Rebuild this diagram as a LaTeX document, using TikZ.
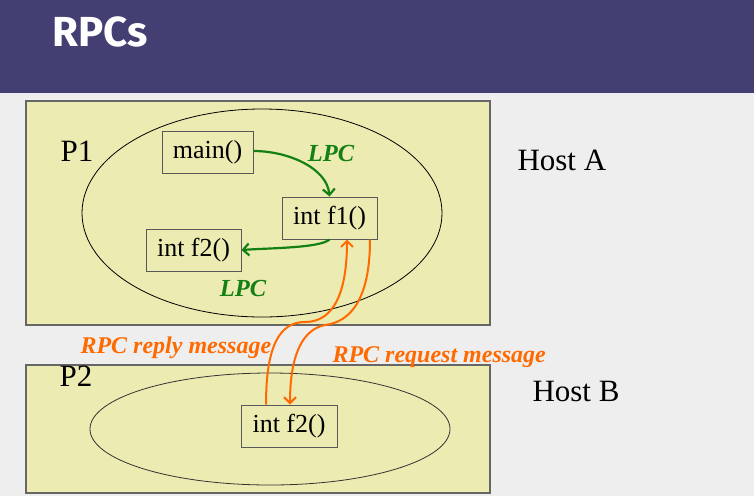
\documentclass[tikz,border=0pt]{standalone}
\usepackage{fontspec}
\setmainfont{Liberation Serif}
\newfontfamily\titlefont{Fira Sans}
\usetikzlibrary{arrows.meta}
\definecolor{headbg}{RGB}{67,63,115}
\definecolor{pagebg}{RGB}{238,238,238}
\definecolor{hostbg}{RGB}{236,235,178}
\definecolor{lpcgreen}{RGB}{20,128,20}
\definecolor{rpcorange}{RGB}{255,106,0}
\tikzset{
  hostbox/.style={draw=black!60,fill=hostbg,line width=1.2pt},
  funcbox/.style={draw=black!65,line width=1pt,inner sep=0pt,font=\fontsize{26}{26}\selectfont},
  proclabel/.style={font=\fontsize{31}{31}\selectfont},
  lpclabel/.style={text=lpcgreen,font=\fontsize{24.5}{24.5}\selectfont\bfseries\itshape},
  rpclabel/.style={text=rpcorange,font=\fontsize{24}{24}\selectfont\bfseries\itshape},
  lpccall/.style={draw=lpcgreen,line width=2.2pt,-{Straight Barb[length=6pt,width=12pt]}},
  rpccall/.style={draw=rpcorange,line width=2pt,-{Straight Barb[length=6pt,width=12pt]}}
}
\begin{document}
\begin{tikzpicture}[x=1pt,y=-1pt]
  \useasboundingbox (0,0) rectangle (754,496);
  \fill[pagebg] (0,0) rectangle (754,496);
  \fill[headbg] (0,0) rectangle (754,93);
  \node[anchor=base west,text=white,font=\titlefont\fontsize{42}{42}\selectfont\bfseries] (title) at (49,46) {RPCs};

  \draw[hostbox] (26,101) rectangle (490,325);
  \draw[hostbox] (26,365) rectangle (490,493);
  \draw[black,line width=0.8pt] (262,213) ellipse [x radius=180,y radius=104];
  \draw[black!80,line width=0.8pt] (270,429) ellipse [x radius=180,y radius=56];

  \node[proclabel,anchor=base west] (p1) at (57,161) {P1};
  \node[proclabel,anchor=base west] (p2) at (56,386) {P2};
  \node[proclabel,anchor=base west] (hosta) at (514,170) {Host A};
  \node[proclabel,anchor=base west] (hostb) at (529,401) {Host B};

  \node[funcbox,minimum width=91,minimum height=42] (main) at (207.5,152) {main()};
  \node[funcbox,minimum width=95,minimum height=42] (f1) at (329.5,218) {int f1()};
  \node[funcbox,minimum width=95,minimum height=42] (f2) at (193.5,250) {int f2()};
  \node[funcbox,minimum width=96,minimum height=42] (f2b) at (289,426) {int f2()};

  \node[lpclabel] (lpca) at (331,154) {LPC};
  \node[lpclabel] (lpcb) at (243,289) {LPC};
  \node[rpclabel,anchor=base west] (reply) at (77,353) {RPC reply message};
  \node[rpclabel,anchor=base west] (request) at (329,362) {RPC request message};

  \draw[lpccall] (main.east) ++(0,-1) .. controls (288,151) and (327,168) .. (f1.north);
  \draw[lpccall] (f1.south) .. controls (320,248) and (270,248) .. (f2.east);
  \draw[rpccall] (f2b.north -| 266,0) .. controls (266,345) and (280,322) .. (305,322)
    .. controls (335,322) and (347,290) .. (f1.south -| 347,0);
  \draw[rpccall] (f1.south -| 370,0) .. controls (370,300) and (350,322) .. (325,325)
    .. controls (300,330) and (290,360) .. (f2b.north -| 290,0);
\end{tikzpicture}
\end{document}
